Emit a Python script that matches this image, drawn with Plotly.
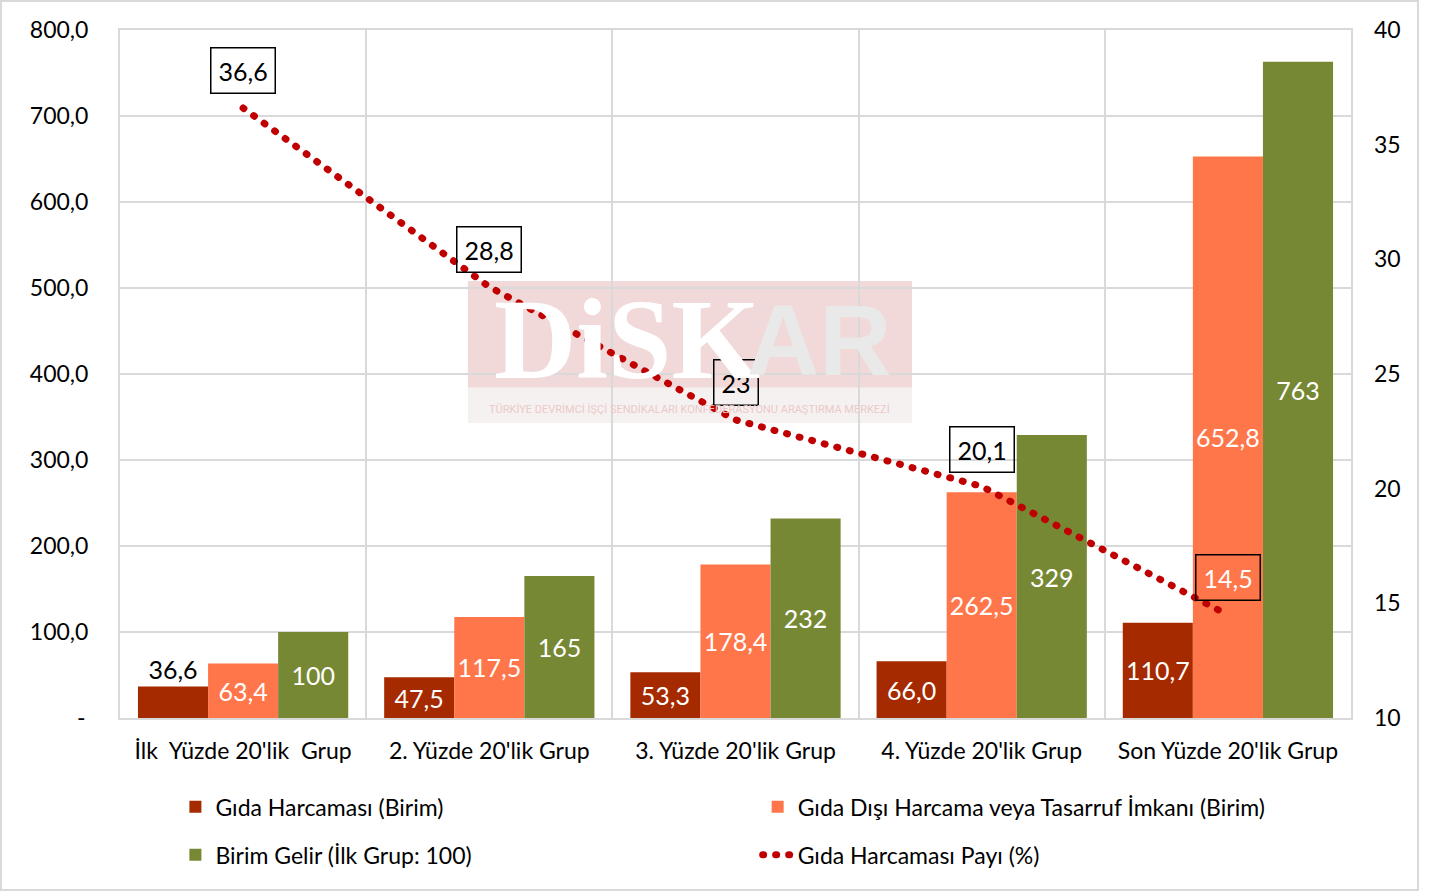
import plotly.graph_objects as go

# Data
groups = ["İlk\u00a0 Yüzde 20'lik\u00a0 Grup", "2. Yüzde 20'lik Grup", "3. Yüzde 20'lik Grup",
          "4. Yüzde 20'lik Grup", "Son Yüzde 20'lik Grup"]
gida = [36.6, 47.5, 53.3, 66.0, 110.7]
gida_disi = [63.4, 117.5, 178.4, 262.5, 652.8]
birim_gelir = [100, 165, 232, 329, 763]
gida_payi = [36.6, 28.8, 23.0, 20.1, 14.5]

left_ticks = [0, 100, 200, 300, 400, 500, 600, 700, 800]
right_ticks = [10, 15, 20, 25, 30, 35, 40]

C_GIDA = '#A52A00'
C_DISI = '#FF764A'
C_GELIR = '#778834'
C_LINE = '#C00000'
GRID = '#D9D9D9'
FONT = 'Lato'

fig = go.Figure()

bar_font = dict(family=FONT, size=25)

fig.add_trace(go.Bar(
    x=groups, y=gida, name='Gıda Harcaması (Birim)',
    marker=dict(color=C_GIDA, line=dict(width=0)),
    texttemplate='%{y:.1f}',
    textposition=['outside' if v < 40 else 'inside' for v in gida],
    insidetextfont=dict(color='white', **bar_font),
    outsidetextfont=dict(color='black', **bar_font),
    legend='legend', legendgroup='a',
))
fig.add_trace(go.Bar(
    x=groups, y=gida_disi, name='Gıda Dışı Harcama veya Tasarruf İmkanı (Birim)',
    marker=dict(color=C_DISI, line=dict(width=0)),
    texttemplate='%{y:.1f}', textposition='inside',
    insidetextfont=dict(color='white', **bar_font),
    legend='legend2', legendgroup='c',
))
fig.add_trace(go.Bar(
    x=groups, y=birim_gelir, name='Birim Gelir (İlk Grup: 100)',
    marker=dict(color=C_GELIR, line=dict(width=0)),
    texttemplate='%{y:.0f}', textposition='inside',
    insidetextfont=dict(color='white', **bar_font),
    legend='legend', legendgroup='b',
))
fig.add_trace(go.Scatter(
    x=groups, y=gida_payi, name='Gıda Harcaması Payı (%)',
    mode='lines', yaxis='y2',
    line=dict(color=C_LINE, width=7, dash='1px,12px'),
    legend='legend2', legendgroup='d',
))

# boxed labels for the share line
for i, (g, v) in enumerate(zip(groups, gida_payi)):
    fig.add_annotation(
        x=g, y=v, xref='x', yref='y2', yshift=37,
        text=f'{v:g}'.replace('.', ','), showarrow=False,
        font=dict(family=FONT, size=25, color='white' if i == len(groups) - 1 else 'black'),
        bordercolor='black', borderwidth=1.5, borderpad=7,
    )

# watermark (DİSKAR logo)
fig.add_shape(type='rect', xref='x', yref='y', x0=0.913, x1=2.717, y0=384, y1=508,
              fillcolor='#F1D9D9', line=dict(width=0), layer='below')
fig.add_shape(type='rect', xref='x', yref='y', x0=0.913, x1=2.717, y0=343, y1=384,
              fillcolor='#F6F1F1', line=dict(width=0), layer='below')
fig.add_annotation(x=1.56, y=440, xref='x', yref='y', text='<b>DiSK</b>', showarrow=False,
                   font=dict(family='Liberation Serif', size=114, color='white'))
fig.add_annotation(x=2.34, y=440, xref='x', yref='y', text='<b>AR</b>', showarrow=False,
                   font=dict(family='Liberation Sans', size=100, color='#E9E9E9'))
fig.add_annotation(x=1.815, y=359, xref='x', yref='y',
                   text='TÜRKİYE DEVRİMCİ İŞÇİ SENDİKALARI KONFEDERASYONU ARAŞTIRMA MERKEZİ',
                   showarrow=False, font=dict(family='Roboto', size=11, color='#EBC9C9'))

# outer chart border
fig.add_shape(type='rect', xref='paper', yref='paper', x0=-0.0967, x1=1.0544, y0=-0.25, y1=1.0422,
              line=dict(color=GRID, width=2), layer='below')

left_text = ['-\u2009' if v == 0 else f'{v:.1f}'.replace('.', ',') for v in left_ticks]

fig.update_layout(
    width=1440, height=893,
    margin=dict(l=120, r=89, t=30, b=175),
    paper_bgcolor='white', plot_bgcolor='white',
    separators=',.',
    barmode='group', bargap=0.146, bargroupgap=0,
    font=dict(family=FONT, size=23, color='black'),
    xaxis=dict(
        tickson='boundaries', showgrid=True, gridcolor=GRID, gridwidth=2,
        showline=True, linecolor=GRID, linewidth=2, mirror=True,
        ticks='', ticklabelstandoff=11, tickfont=dict(size=23),
    ),
    yaxis=dict(
        range=[0, 800], tickvals=left_ticks, ticktext=left_text,
        showgrid=True, gridcolor=GRID, gridwidth=2, zeroline=False,
        showline=True, linecolor=GRID, linewidth=2, mirror=True,
        ticks='', ticklabelstandoff=25, tickfont=dict(size=23),
    ),
    yaxis2=dict(
        overlaying='y', side='right', range=[10, 40], tickvals=right_ticks,
        showgrid=False, zeroline=False, ticks='', ticklabelstandoff=22,
        tickfont=dict(size=23),
    ),
    legend=dict(
        x=0.045, y=-0.098, xanchor='left', yanchor='top', orientation='v',
        traceorder='grouped', tracegroupgap=15, font=dict(family=FONT, size=23),
        bgcolor='rgba(0,0,0,0)',
    ),
    legend2=dict(
        x=0.518, y=-0.098, xanchor='left', yanchor='top', orientation='v',
        traceorder='grouped', tracegroupgap=15, font=dict(family=FONT, size=23),
        bgcolor='rgba(0,0,0,0)',
    ),
)

fig.update_traces(constraintext='none', cliponaxis=False, insidetextanchor='middle',
                  selector=dict(type='bar'))

# page without body margin; round caps so the dotted line is drawn as dots
post = """
document.body.style.margin = '0';
var st = document.createElement('style');
st.textContent = '.js-line { stroke-linecap: round; }';
document.head.appendChild(st);
"""

fig.write_html("out.html", post_script=post, config={'displayModeBar': False})
